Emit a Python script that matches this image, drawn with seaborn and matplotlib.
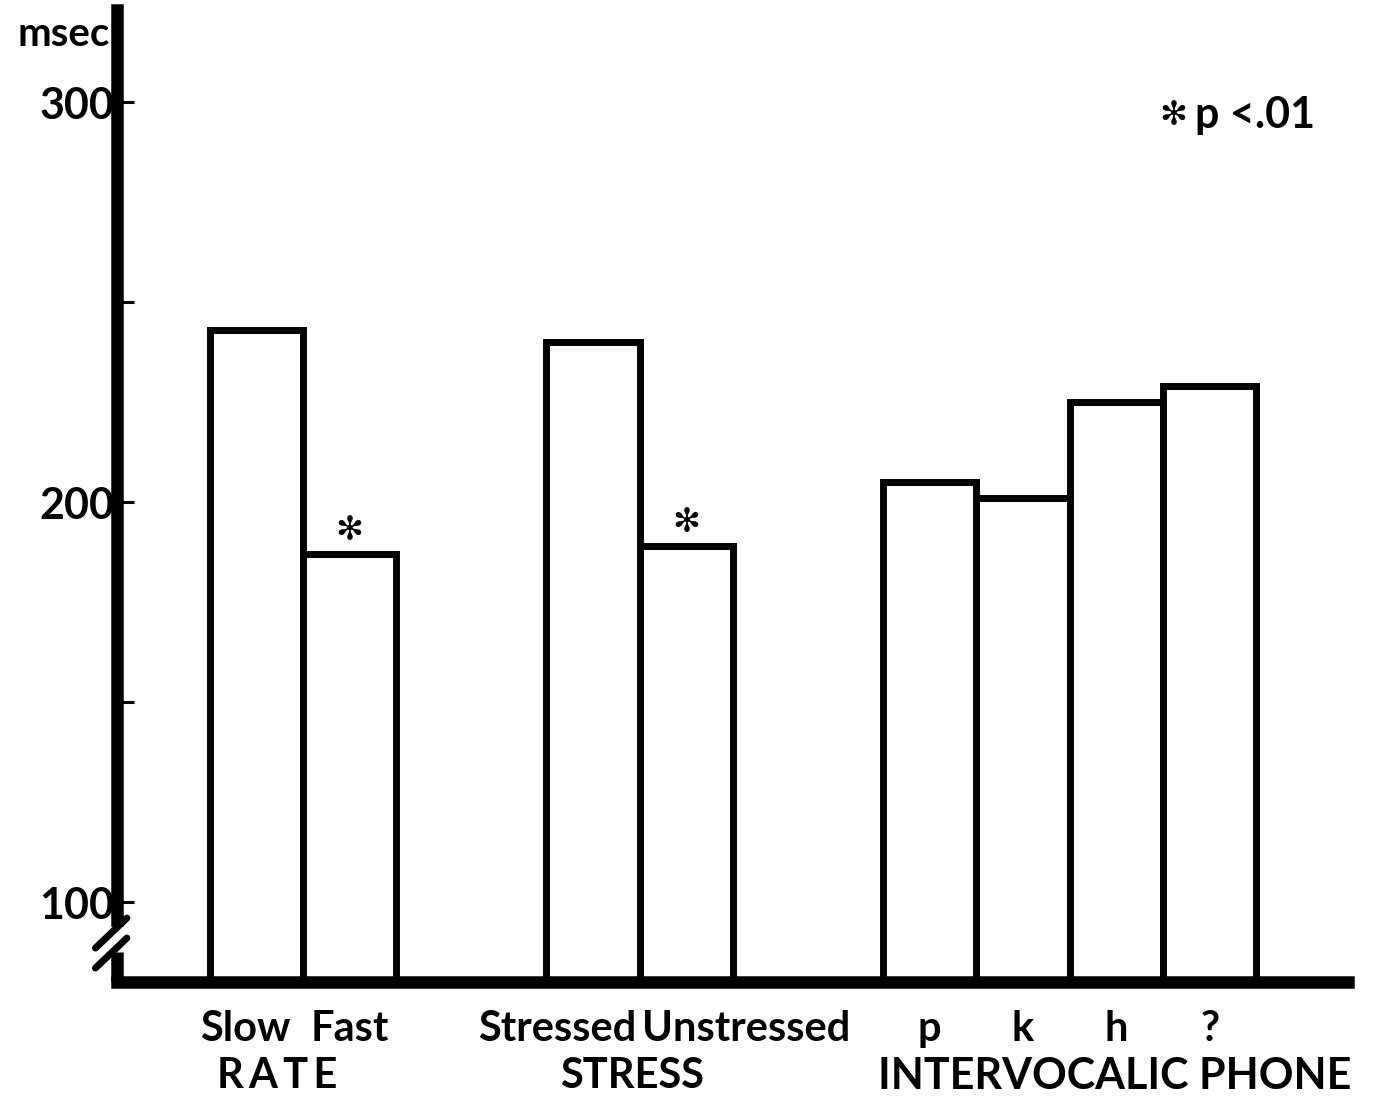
import matplotlib
matplotlib.use("Agg")
import matplotlib.pyplot as plt
import matplotlib.transforms as mtransforms
import seaborn as sns
import pandas as pd

# Mean durations (msec) by factor level
groups = ["RATE", "STRESS", "INTERVOCALIC PHONE"]
rate_levels = ["Slow", "Fast"]
rate_values = [243, 187]
stress_levels = ["Stressed", "Unstressed"]
stress_values = [240, 189]
phone_levels = ["p", "k", "h", "?"]
phone_values = [205, 201, 225, 229]
significant = ["Fast", "Unstressed"]

y_ticks = [100, 150, 200, 250, 300]
y_ticklabels = ["100", "", "200", "", "300"]

# Build a long table; bars inside a group touch, groups are separated
group_levels = [rate_levels, stress_levels, phone_levels]
group_values = [rate_values, stress_values, phone_values]
GROUP_STEP = 3.6
rows = []
for g, (name, levels, values) in enumerate(zip(groups, group_levels, group_values)):
    for i, (lvl, val) in enumerate(zip(levels, values)):
        rows.append({"group": name, "level": lvl, "msec": val,
                     "pos": g * GROUP_STEP + i})
df = pd.DataFrame(rows)

sns.set_style("white")
plt.rcParams["font.family"] = ["Lato", "DejaVu Sans"]
plt.rcParams["font.weight"] = "bold"
plt.rcParams["text.color"] = "black"
plt.rcParams["ytick.color"] = "black"
plt.rcParams["axes.edgecolor"] = "black"

FS = 30

fig = plt.figure(figsize=(13.75, 10.98), dpi=100)
ax = fig.add_axes([0.0851, 0.1056, 0.8953, 0.8852])

sns.barplot(data=df, x="pos", y="msec", native_scale=True, width=1.0,
            color="white", saturation=1, edgecolor="black", linewidth=5,
            errorbar=None, ax=ax)

ax.set_xlim(-1.49, 11.68)
ax.set_ylim(80, 323)

# Axes frame: heavy left and bottom lines, broken y axis near the bottom
for side in ["top", "right"]:
    ax.spines[side].set_visible(False)
ax.spines["left"].set_linewidth(9)
ax.spines["left"].set_bounds(95.5, 323)
ax.spines["bottom"].set_linewidth(9)
ax.spines["bottom"].set_capstyle("projecting")

blend = mtransforms.blended_transform_factory(ax.transAxes, ax.transData)
ax.plot([0, 0], [80, 87.5], color="black", lw=9, transform=blend,
        clip_on=False, solid_capstyle="butt")
for y0 in (88.5, 83.5):
    ax.plot([-0.0175, 0.008], [y0, y0 + 7.5], color="black", lw=5,
            transform=blend, clip_on=False, solid_capstyle="round")

ax.set_yticks(y_ticks)
ax.set_yticklabels(y_ticklabels)
ax.tick_params(axis="y", direction="in", length=12, width=2.2, pad=2,
               labelsize=31, left=True, labelcolor="black")
for lbl in ax.get_yticklabels():
    lbl.set_fontweight("bold")
ax.set_xticks([])
ax.set_xlabel("")
ax.set_ylabel("")

# Unit label above the y axis
ax.text(-0.006, 317, "msec", transform=blend, ha="right", va="center",
        fontsize=29)

# Significance marks above bars
STAR = "\u273B"
for _, r in df[df["level"].isin(significant)].iterrows():
    ax.text(r["pos"], r["msec"] + 6, STAR, ha="center", va="center",
            fontsize=24, family=["DejaVu Sans"])
ax.text(0.847, 0.892, STAR, transform=ax.transAxes, ha="left", va="center",
        fontsize=24, family=["DejaVu Sans"])
ax.text(0.876, 0.892, "p <.01", transform=ax.transAxes, ha="left",
        va="center", fontsize=FS + 1)

# Level labels under the bars and group names beneath them
xlab = mtransforms.blended_transform_factory(ax.transData, ax.transAxes)
row1, row2 = -0.048, -0.097
for g, (name, levels) in enumerate(zip(groups, group_levels)):
    sub = df[df["group"] == name]
    if name == "STRESS":
        b = sub["pos"].iloc[0] + 0.5
        ax.text(b - 0.03, row1, levels[0], transform=xlab, ha="right",
                va="center", fontsize=FS)
        ax.text(b + 0.03, row1, levels[1], transform=xlab, ha="left",
                va="center", fontsize=FS)
    else:
        for _, r in sub.iterrows():
            shift = -0.12 if r["level"] == "Slow" else 0
            ax.text(r["pos"] + shift, row1, r["level"], transform=xlab,
                    ha="center", va="center", fontsize=FS)
    if name == "INTERVOCALIC PHONE":
        ax.text(sub["pos"].iloc[0] - 0.55, row2, name, transform=xlab,
                ha="left", va="center", fontsize=FS + 1)
    elif name == "RATE":
        ax.text(sub["pos"].mean() - 0.28, row2, "\u2009".join(name),
                transform=xlab, ha="center", va="center", fontsize=FS)
    else:
        ax.text(sub["pos"].mean() - 0.08, row2, name, transform=xlab,
                ha="center", va="center", fontsize=FS)

fig.savefig("out.png", dpi=100)
